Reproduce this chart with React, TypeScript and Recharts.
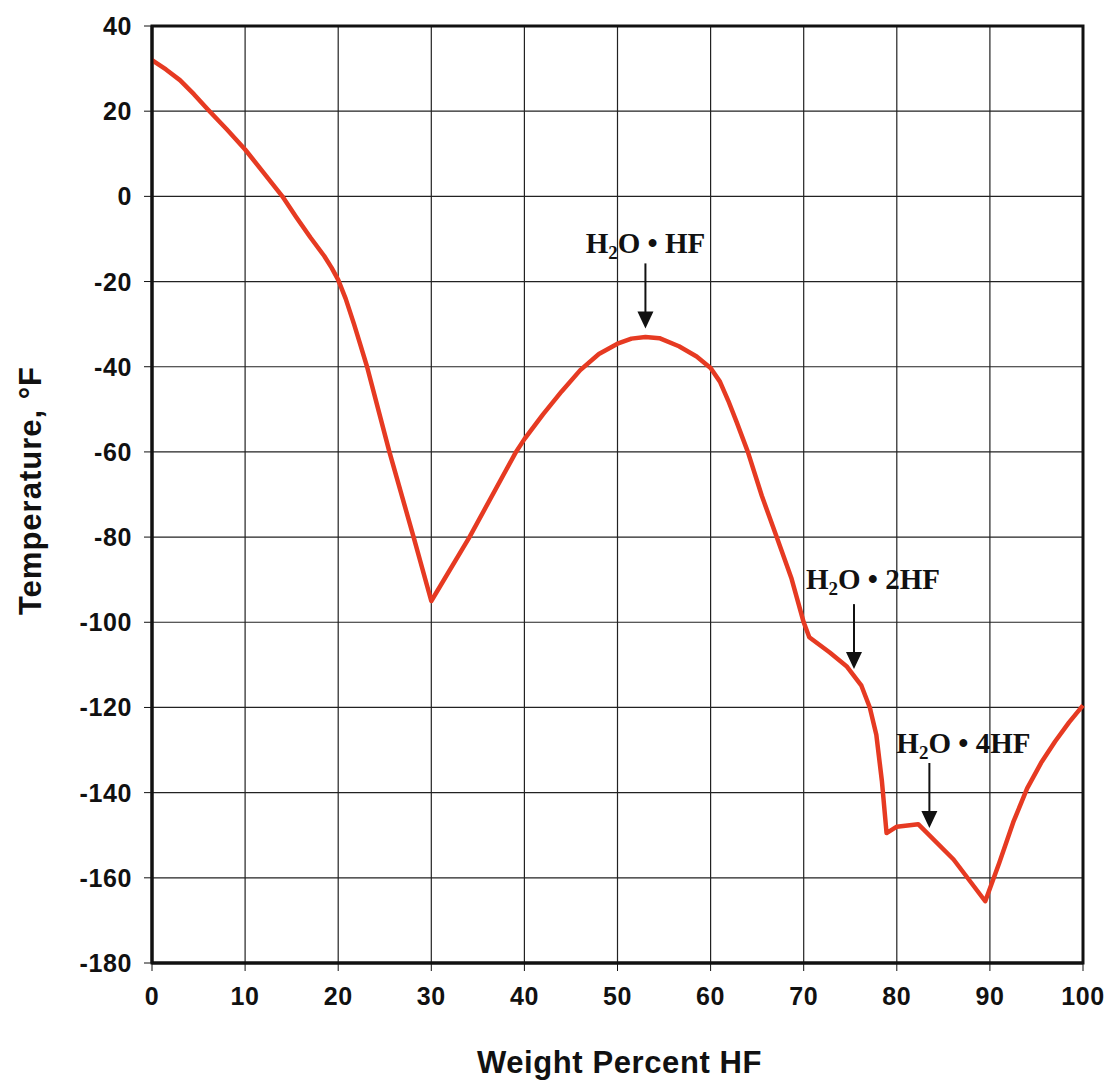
import React from 'react';
import {
  LineChart,
  Line,
  XAxis,
  YAxis,
  CartesianGrid,
  ReferenceArea,
  ReferenceDot,
} from 'recharts';

// ── Data ────────────────────────────────────────────────────

const weightPct = [
  0, 1.5, 3, 4.5, 6, 8, 10, 12, 14, 15.5, 17, 18.5, 19.3, 20, 20.8, 21.7, 22.4, 23.1, 24.3, 25.5,
  28.1, 30, 34.1, 39.1, 40, 42, 44, 46, 48, 50, 51.5, 53, 54.5, 56.6, 58.5, 60, 61, 61.9, 62.8,
  64, 65.5, 67.1, 68.7, 70, 70.6, 72.8, 74.6, 76.2, 77.1, 77.8, 78.4, 78.9, 80, 82.3, 86.1, 89.5,
  91, 92.5, 94, 95.5, 97, 98.5, 100,
];

const tempF = [
  32, 29.8, 27.3, 24, 20.4, 15.8, 11, 5.5, 0, -4.9, -9.6, -14, -16.8, -19.6, -24, -30, -35, -40,
  -50, -60, -80, -95, -80, -60, -57, -51.2, -45.8, -40.8, -37, -34.6, -33.4, -33, -33.3, -35.2,
  -37.6, -40.3, -43.5, -48, -53, -60, -70.3, -80, -89.8, -100, -103.5, -107.1, -110.3, -114.9,
  -120, -126.4, -137.3, -149.5, -148, -147.4, -155.7, -165.5, -156.5, -147, -139, -133, -128,
  -123.5, -119.5,
];

const xTicks = [0, 10, 20, 30, 40, 50, 60, 70, 80, 90, 100];
const yTicks = [40, 20, 0, -20, -40, -60, -80, -100, -120, -140, -160, -180];

// arrow tips of the hydrate labels
const hydrateX = [53, 75.4, 83.5];
const hydrateY = [-31, -111, -148.3];
const hydrateSuffix = ['HF', '2HF', '4HF'];

const chartData = weightPct.map((x, i) => ({x, t: tempF[i]}));

// ── Constants ───────────────────────────────────────────────

const CURVE = '#e63a22';
const INK = '#111111';
const SANS = '"Liberation Sans", Arial, sans-serif';
const SERIF = '"Liberation Serif", "Times New Roman", serif';

const labelShift = [0, 19, 34];
const labelRise = [75, 80, 75];

// ── Ticks ───────────────────────────────────────────────────

function XTick({x, y, payload}: any) {
  return (
    <text x={x} y={y} dy="0.78em" textAnchor="middle" fontFamily={SANS} fontWeight="bold" fontSize={25} letterSpacing={0.6} fill={INK}>
      {payload.value}
    </text>
  );
}

function YTick({x, y, payload}: any) {
  return (
    <text x={x} y={y} dy="0.36em" textAnchor="end" fontFamily={SANS} fontWeight="bold" fontSize={25} letterSpacing={0.6} fill={INK}>
      {payload.value}
    </text>
  );
}

// ── Annotation arrow + label ────────────────────────────────

function Hydrate({cx, cy, idx}: {cx?: number; cy?: number; idx: number}) {
  if (cx == null || cy == null) return null;
  const top = cy - 65;
  const tx = cx + labelShift[idx];
  const ty = cy - labelRise[idx];
  return (
    <g>
      <line x1={cx} y1={top} x2={cx} y2={cy - 14} stroke={INK} strokeWidth={2} />
      <polygon points={`${cx - 8},${cy - 17} ${cx + 8},${cy - 17} ${cx},${cy}`} fill={INK} />
      <text x={tx} y={ty} textAnchor="middle" fontFamily={SERIF} fontWeight="bold" fontSize={29} fill={INK}>
        H
        <tspan fontSize={19} dy={6}>2</tspan>
        <tspan dy={-6}>{`O \u2022 ${hydrateSuffix[idx]}`}</tspan>
      </text>
    </g>
  );
}

// ── Chart ───────────────────────────────────────────────────

export default function App() {
  return (
    <div style={{position: 'absolute', left: 0, top: 0, width: 1114, height: 1085, background: '#fff'}}>
      <LineChart
        width={1114}
        height={1085}
        data={chartData}
        margin={{top: 26, right: 31, left: 0, bottom: 0}}
      >
        <CartesianGrid stroke="#222" strokeWidth={1.2} />
        <XAxis
          dataKey="x"
          type="number"
          domain={[0, 100]}
          ticks={xTicks}
          height={122}
          tickSize={8}
          tickMargin={14}
          tick={<XTick />}
          axisLine={{stroke: INK, strokeWidth: 3}}
          tickLine={{stroke: INK}}
          label={{
            content: ({viewBox}: any) => (
              <text
                x={viewBox.x + viewBox.width / 2 + 2}
                y={viewBox.y + 99}
                textAnchor="middle"
                dominantBaseline="central"
                fontFamily={SANS}
                fontWeight="bold"
                fontSize={31}
                letterSpacing={0.6}
                fill={INK}
              >
                Weight Percent HF
              </text>
            ),
          }}
        />
        <YAxis
          type="number"
          domain={[-180, 40]}
          ticks={yTicks}
          width={152}
          tickSize={8}
          tickMargin={12}
          tick={<YTick />}
          axisLine={{stroke: INK, strokeWidth: 3}}
          tickLine={{stroke: INK}}
          label={{
            content: ({viewBox}: any) => {
              const x = viewBox.x + 30;
              const y = viewBox.y + viewBox.height / 2 - 4;
              return (
                <text
                  x={x}
                  y={y}
                  transform={`rotate(-90 ${x} ${y})`}
                  textAnchor="middle"
                  dominantBaseline="central"
                  fontFamily={SANS}
                  fontWeight="bold"
                  fontSize={31}
                  letterSpacing={1}
                  fill={INK}
                >
                  Temperature, °F
                </text>
              );
            },
          }}
        />
        <ReferenceArea
          x1={0}
          x2={100}
          y1={-180}
          y2={40}
          fill="none"
          stroke={INK}
          strokeWidth={3}
          isAnimationActive={false}
        />
        <Line
          type="linear"
          dataKey="t"
          stroke={CURVE}
          strokeWidth={4.5}
          dot={false}
          activeDot={false}
          strokeLinejoin="round"
          isAnimationActive={false}
        />
        {hydrateX.map((x, i) => (
          <ReferenceDot
            key={i}
            x={x}
            y={hydrateY[i]}
            shape={(p: any) => <Hydrate cx={p.cx} cy={p.cy} idx={i} />}
          />
        ))}
      </LineChart>
    </div>
  );
}
